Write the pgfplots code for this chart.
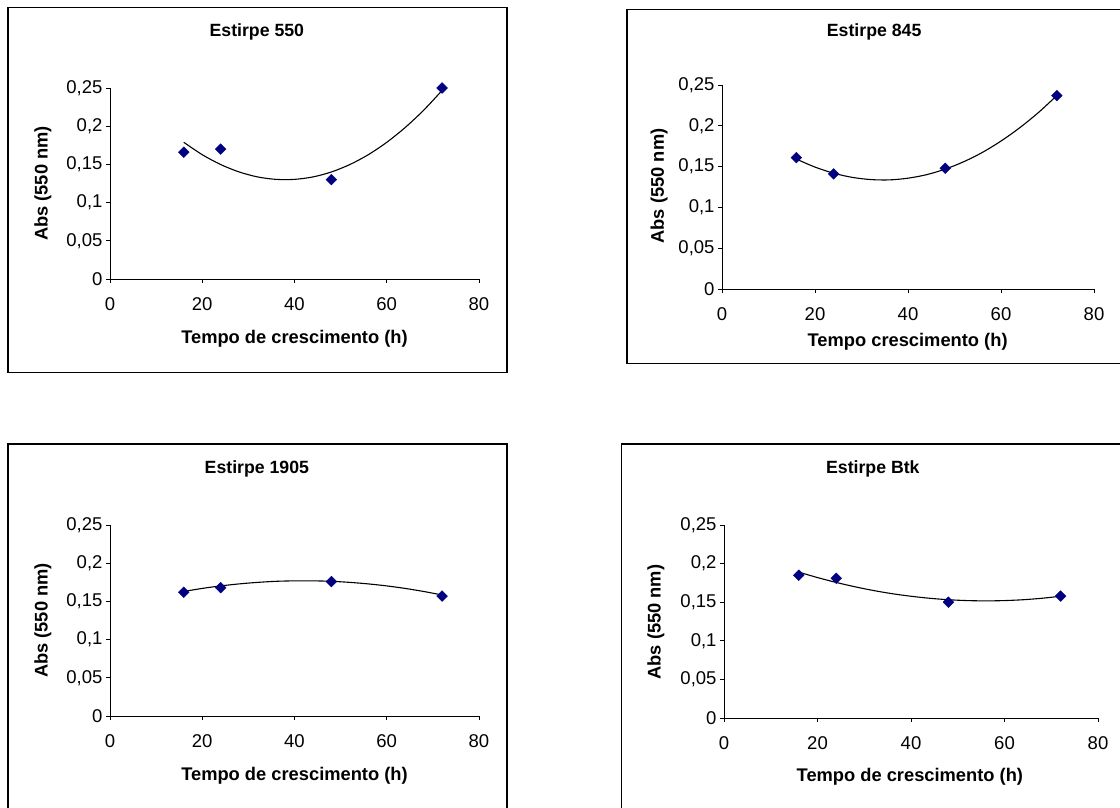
\documentclass[border=0pt]{standalone}
\usepackage{fontspec}
\setmainfont{Liberation Sans}
\usepackage{pgfplots}
\pgfplotsset{compat=1.18}

\definecolor{navy}{RGB}{0,0,128}

\pgfplotsset{
  panel/.style={
    scale only axis,
    axis lines*=left,
    axis line style={-, line width=0.9pt},
    xmin=0, xmax=80, ymin=0, ymax=0.25,
    xtick={0,20,40,60,80},
    ytick={0,0.05,0.1,0.15,0.2,0.25},
    scaled y ticks=false,
    tick align=outside,
    major tick length=4pt,
    tick style={black, line width=0.9pt},
    /pgf/number format/.cd, fixed, precision=2, use comma, assume math mode=true,
    /pgfplots/.cd,
    ticklabel style={font=\fontsize{18.5}{20}\selectfont},
    xticklabel style={yshift=-11pt},
    label style={font=\bfseries\fontsize{18.3}{20}\selectfont},
    title style={font=\bfseries\fontsize{17.7}{20}\selectfont, yshift=-6pt},
    ylabel={Abs (550 nm)},
    clip=false,
  },
  pts/.style={only marks, mark=square*, mark size=3.8pt,
    mark options={rotate=45, fill=navy, draw=navy}},
  trend/.style={black, line width=1.1pt, smooth, no marks},
}

\begin{document}
\begin{tikzpicture}[x=1pt,y=1pt]
\useasboundingbox (0,0) rectangle (1120,807);

% frames
\draw[line width=1.5pt] (8,434.7) rectangle (507,799.7);
\draw[line width=1.5pt] (1121,797.7) -- (627,797.7) -- (627,443.7) -- (1121,443.7);
\draw[line width=1.5pt] (8,-1) -- (8,363) -- (507,363) -- (507,-1);
\draw[line width=1.5pt] (621.7,-1) -- (621.7,363) -- (1121,363);

% Estirpe 550
\begin{axis}[panel, at={(110pt,528pt)}, anchor=south west, width=369pt, height=191pt,
  title={Estirpe 550}, title style={at={(axis description cs:0.398,1.293)}, anchor=center},
  xlabel={Tempo de crescimento (h)},
  xlabel style={at={(axis description cs:0.5,-0.314)}, anchor=center},
  ylabel style={at={(axis description cs:-0.182,0.5)}, anchor=center}]
\addplot[trend] coordinates {(16,0.1789) (20,0.1627) (24,0.1498) (28,0.1401) (32,0.1336)
  (36,0.1304) (40,0.1304) (44,0.1336) (48,0.1401) (52,0.1498) (56,0.1627) (60,0.1789)
  (64,0.1983) (68,0.2209) (72,0.2468)};
\addplot[pts] coordinates {(16,0.166) (24,0.170) (48,0.130) (72,0.250)};
\end{axis}

% Estirpe 845
\begin{axis}[panel, at={(722pt,518pt)}, anchor=south west, width=372pt, height=204pt,
  title={Estirpe 845}, title style={at={(axis description cs:0.409,1.26)}, anchor=center},
  xlabel={Tempo crescimento (h)},
  xlabel style={at={(axis description cs:0.499,-0.26)}, anchor=center},
  ylabel style={at={(axis description cs:-0.169,0.505)}, anchor=center}]
\addplot[trend] coordinates {(16,0.1592) (20,0.1494) (24,0.1419) (28,0.1368) (32,0.1341)
  (36,0.1337) (40,0.1358) (44,0.1401) (48,0.1469) (52,0.1560) (56,0.1674) (60,0.1813)
  (64,0.1975) (68,0.2160) (72,0.2370)};
\addplot[pts] coordinates {(16,0.161) (24,0.141) (48,0.148) (72,0.237)};
\end{axis}

% Estirpe 1905
\begin{axis}[panel, at={(110pt,91pt)}, anchor=south west, width=369pt, height=191pt,
  title={Estirpe 1905}, title style={at={(axis description cs:0.398,1.293)}, anchor=center},
  xlabel={Tempo de crescimento (h)},
  xlabel style={at={(axis description cs:0.5,-0.314)}, anchor=center},
  ylabel style={at={(axis description cs:-0.182,0.5)}, anchor=center}]
\addplot[trend] coordinates {(16,0.1630) (20,0.1670) (24,0.1703) (28,0.1729) (32,0.1749)
  (36,0.1763) (40,0.1769) (44,0.1769) (48,0.1763) (52,0.1749) (56,0.1729) (60,0.1703)
  (64,0.1670) (68,0.1630) (72,0.1584)};
\addplot[pts] coordinates {(16,0.162) (24,0.168) (48,0.176) (72,0.157)};
\end{axis}

% Estirpe Btk
\begin{axis}[panel, at={(724pt,89pt)}, anchor=south west, width=374pt, height=193pt,
  title={Estirpe Btk}, title style={at={(axis description cs:0.398,1.29)}, anchor=center},
  xlabel={Tempo de crescimento (h)},
  xlabel style={at={(axis description cs:0.497,-0.306)}, anchor=center},
  ylabel style={at={(axis description cs:-0.182,0.497)}, anchor=center}]
\addplot[trend] coordinates {(16,0.1890) (20,0.1819) (24,0.1756) (28,0.1700) (32,0.1651)
  (36,0.1610) (40,0.1577) (44,0.1551) (48,0.1532) (52,0.1521) (56,0.1517) (60,0.1521)
  (64,0.1532) (68,0.1551) (72,0.1577)};
\addplot[pts] coordinates {(16,0.185) (24,0.181) (48,0.150) (72,0.158)};
\end{axis}
\end{tikzpicture}
\end{document}
